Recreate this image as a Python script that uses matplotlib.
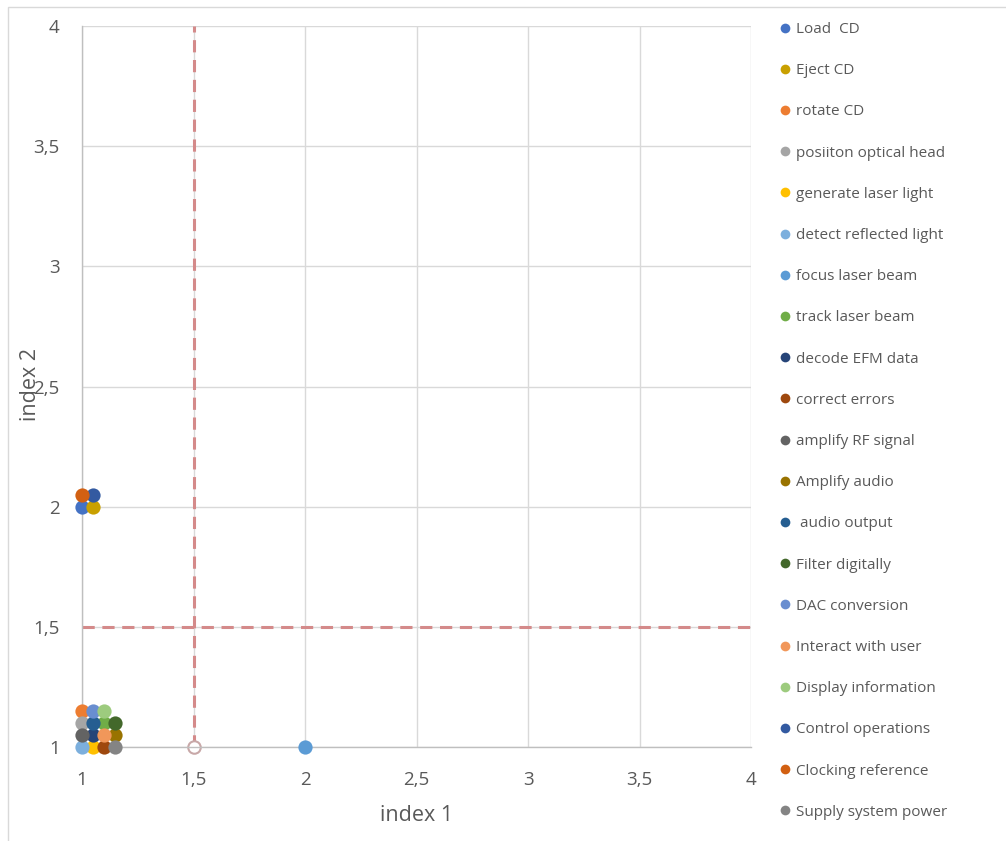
import matplotlib
matplotlib.use("Agg")
import matplotlib.pyplot as plt
from matplotlib.lines import Line2D
from matplotlib.patches import Rectangle

# Function names with their (index 1, index 2) scores
functions = [
    "Load  CD", "Eject CD", "rotate CD", "posiiton optical head",
    "generate laser light", "detect reflected light", "focus laser beam",
    "track laser beam", "decode EFM data", "correct errors",
    "amplify RF signal", "Amplify audio", " audio output", "Filter digitally",
    "DAC conversion", "Interact with user", "Display information",
    "Control operations", "Clocking reference", "Supply system power",
]
index1 = [1.00, 1.05, 1.00, 1.00, 1.05, 1.00, 2.00, 1.10, 1.05, 1.10,
          1.00, 1.15, 1.05, 1.15, 1.05, 1.10, 1.10, 1.05, 1.00, 1.15]
index2 = [2.00, 2.00, 1.15, 1.10, 1.00, 1.00, 1.00, 1.10, 1.05, 1.00,
          1.05, 1.05, 1.10, 1.10, 1.15, 1.05, 1.15, 2.05, 2.05, 1.00]
colors = ["#4472C4", "#C9A000", "#ED7D31", "#A5A5A5", "#FFC000", "#7CAFDD",
          "#5B9BD5", "#70AD47", "#264478", "#9E480E", "#636363", "#997300",
          "#255E91", "#43682B", "#698ED0", "#F1975A", "#9DCB7E", "#335AA1",
          "#D26012", "#848484"]

# Threshold lines
threshold_x = 1.5
threshold_y = 1.5

x_ticks = [1, 1.5, 2, 2.5, 3, 3.5, 4]
y_ticks = [1, 1.5, 2, 2.5, 3, 3.5, 4]

def fmt(v):
    return ("%g" % v).replace(".", ",")

plt.rcParams["font.family"] = ["Open Sans", "DejaVu Sans"]
text_color = "#595959"

fig = plt.figure(figsize=(10.06, 8.41), dpi=100)
ax = fig.add_axes([82 / 1006, 1 - 747 / 841, (751 - 82) / 1006, (747 - 26) / 841])

# Outer chart border
fig.patches.append(Rectangle((8 / 1006, -0.01), 1.0, 1 - 7 / 841 + 0.01,
                             transform=fig.transFigure, fill=False,
                             edgecolor="#D9D9D9", linewidth=1.0))

ax.set_xlim(1, 4)
ax.set_ylim(1, 4)
ax.set_xticks(x_ticks)
ax.set_yticks(y_ticks)
ax.set_xticklabels([fmt(v) for v in x_ticks])
ax.set_yticklabels([fmt(v) for v in y_ticks])
ax.tick_params(length=0, labelsize=13.5, colors=text_color)
ax.tick_params(axis="y", pad=16)
ax.tick_params(axis="x", pad=17)
ax.grid(True, color="#D9D9D9", linewidth=1.0)
ax.set_axisbelow(True)
for side in ["top", "right"]:
    ax.spines[side].set_visible(False)
for side in ["left", "bottom"]:
    ax.spines[side].set_color("#BFBFBF")
    ax.spines[side].set_linewidth(1.0)

ax.set_xlabel("index 1", fontsize=15.5, color=text_color, labelpad=12)
ax.set_ylabel("index 2", fontsize=15.5, color=text_color)
ax.yaxis.set_label_coords((41 - 82) / 669, (747 - 385) / 721)

# Dashed threshold lines
dash_color = "#D48A8A"
ax.plot([threshold_x, threshold_x], [1, 4], linestyle=(0, (4, 2.5)),
        color=dash_color, linewidth=2.2, zorder=2, clip_on=False,
        marker="o", markevery=[0], markersize=9, markerfacecolor="white",
        markeredgecolor="#C8A8A8", markeredgewidth=1.5)
ax.plot([1, 4], [threshold_y, threshold_y], linestyle=(0, (4, 2.5)),
        color=dash_color, linewidth=2.2, zorder=2, clip_on=False)

handles = []
for name, xv, yv, c in zip(functions, index1, index2, colors):
    ax.scatter([xv], [yv], s=105, color=c, zorder=3, clip_on=False,
               linewidths=0)
    handles.append(Line2D([], [], linestyle="none", marker="o",
                          markersize=7, markerfacecolor=c,
                          markeredgewidth=0, label=name))

leg = fig.legend(handles=handles, loc="upper left",
                 bbox_to_anchor=(779 / 1006, 1 - 22 / 841),
                 frameon=False, fontsize=11, labelcolor=text_color,
                 handlelength=0.8, handletextpad=0.3, labelspacing=1.715,
                 borderaxespad=0, borderpad=0)

fig.savefig("out.png", dpi=100)
